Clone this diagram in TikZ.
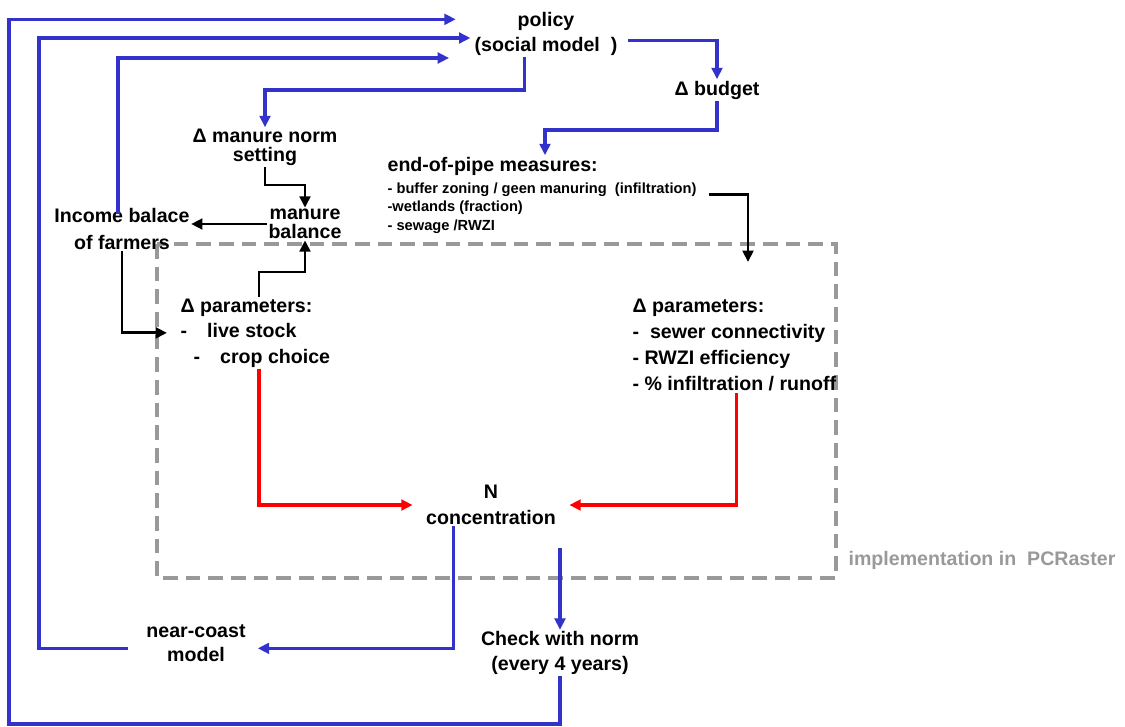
\documentclass[tikz,border=0pt]{standalone}
\usepackage{fontspec}
\setmainfont{Liberation Sans}
\usepackage{tikz}
\usetikzlibrary{arrows.meta}
\definecolor{linkblue}{RGB}{51,51,204}
\definecolor{boxgray}{RGB}{153,153,153}

\begin{document}
\begin{tikzpicture}[x=0.75pt,y=-0.75pt,>={Triangle[length=8.5pt,width=8pt]},
        txt/.style={font=\fontsize{14.7}{#1}\selectfont\bfseries,align=center,inner sep=1pt},
        txt/.default=19.5,
        small/.style={font=\fontsize{11}{13.9}\selectfont\bfseries,align=left,inner sep=1pt},
        blueline/.style={draw=linkblue,line width=2.3pt},
        blackline/.style={draw=black,line width=2.2pt},
        redline/.style={draw=red,line width=2.4pt}]
            \useasboundingbox (0,0) rectangle (1125,726);
            \draw[boxgray,line width=2.6pt,dash pattern=on 11pt off 6pt] (157,244) rectangle (836,578);
            \node[txt=18.75] at (546,34) (policy) {policy\\(social model\ \ )};
            \node[txt] at (717,90) (budget) {Δ budget};
            \node[txt=12] at (265,147) (norm) {Δ manure norm\\[2pt]setting};
            \node[txt=12] at (305,224) (balance) {manure\\[2pt]balance};
            \node[txt=20] at (122,229) (income) {Income balace\\of farmers};
            \node[txt,anchor=base west] at (386,171) (pipehead) {end-of-pipe measures:};
            \node[small,anchor=north west] at (386,181) (pipelist) {- buffer zoning / geen manuring\ \ (infiltration)\\-wetlands (fraction)\\- sewage /RWZI};
            \node[txt=19.1,align=left,anchor=north west] at (179,297) (lpar) {Δ parameters:\\-\hspace{15pt}live stock\\\hspace*{9.75pt}-\hspace{15pt}crop choice};
            \node[txt=19.7,align=left,anchor=north west] at (631,297) (rpar) {Δ parameters:\\-\ \ sewer connectivity\\- RWZI efficiency\\- \% infiltration / runoff};
            \node[txt=19.5] at (491,505) (conc) {N\\concentration};
            \node[txt=18] at (196,643) (coast) {near-coast\\model};
            \node[txt=18.75] at (560,653) (check) {Check with norm\\(every 4 years)};
            \node[txt,text=boxgray,anchor=west] at (847,560) (impl) {implementation in\ \ PCRaster};
            \coordinate (rin) at (748,262);
            \draw[blueline,->] ([shift={(7pt,-5pt)}]policy.east) -| (budget.north);
            \draw[blueline,->] ([xshift=-16pt]policy.south) |- (265,90) to (norm.north);
            \draw[blueline,->] (budget.south) |- (545,130) to (545,130 |- pipehead.north);
            \draw[blackline,->] (norm.south) |- (305,185) to (balance.north);
            \draw[blackline,->] (balance.west) to (balance.west -| income.east);
            \draw[blackline,->] ([xshift=60pt]lpar.north west) |- (305,272) to (balance.south);
            \draw[blackline,->] (income.south) |- ([xshift=-9pt]lpar.west);
            \draw[blackline,->] ([shift={(8pt,-10pt)}]pipelist.north east) -| (rin);
            \draw[redline,->] ([xshift=60pt]lpar.south west) |- ([xshift=-9pt]conc.west);
            \draw[redline,->] ([xshift=79pt]rpar.south west) |- ([xshift=9pt]conc.east);
            \draw[blueline,->] ([xshift=-28pt]conc.south) |- ([shift={(8pt,-4pt)}]coast.east);
            \draw[blueline,->] ([yshift=-16pt]conc.south -| check.north) to (check.north);
            \draw[blueline,->] (check.south) |- (9,724) |- ([shift={(-13pt,11pt)}]policy.west);
            \draw[blueline,->] ([shift={(-13pt,-4pt)}]coast.west) -| (39,38) |- ([shift={(-2pt,-3pt)}]policy.west);
            \draw[blueline,->] ([shift={(-3pt,-5pt)}]income.north) |- ([shift={(-18pt,-18pt)}]policy.west);
        \end{tikzpicture}
\end{document}
